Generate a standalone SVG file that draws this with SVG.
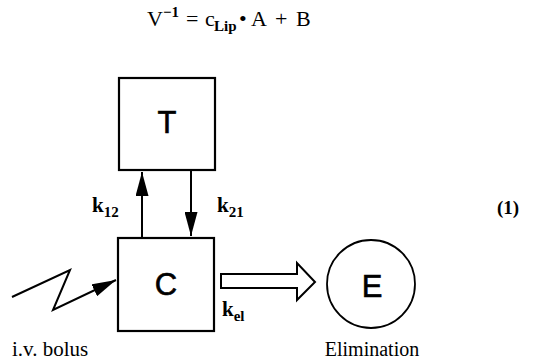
<svg xmlns="http://www.w3.org/2000/svg" width="537" height="364" viewBox="0 0 537 364">
<style>
.serif{font-family:"Liberation Serif","Times New Roman",serif;fill:#000}
.sans{font-family:"Liberation Sans",Arial,sans-serif;fill:#000}
.box{fill:#fff;stroke:#000;stroke-width:2.2}
.line{fill:none;stroke:#000;stroke-width:2}
.b{font-weight:bold}
</style>
<defs>
<marker id="ah" markerWidth="24" markerHeight="13" refX="24" refY="6.5" viewBox="0 0 24 13" markerUnits="userSpaceOnUse" orient="auto">
<path d="M0,0 L24,6.5 L0,13 Z" fill="#000"/>
</marker>
</defs>
<rect width="537" height="364" fill="#fff"/>
<text class="serif" y="26" font-size="22"><tspan x="147">V</tspan><tspan x="163" y="17" font-size="15" class="b">−1</tspan><tspan x="186" y="26">=</tspan><tspan x="205">c</tspan><tspan x="214" y="31" font-size="15" class="b">Lip</tspan><tspan x="239" y="26">•</tspan><tspan x="251">A</tspan><tspan x="275">+</tspan><tspan x="296">B</tspan></text>
<g id="T"><rect class="box" x="119" y="78" width="96" height="92"/><text class="sans" x="167" y="133" font-size="31" stroke="#000" stroke-width="0.6" text-anchor="middle">T</text></g>
<g id="C"><rect class="box" x="118" y="238" width="96" height="93"/><text class="sans" x="166" y="295" font-size="31" stroke="#000" stroke-width="0.6" text-anchor="middle">C</text></g>
<g id="E"><circle cx="371" cy="284" r="44" fill="#fff" stroke="#000" stroke-width="1.8"/><text class="sans" x="372" y="297" font-size="31" stroke="#000" stroke-width="0.6" text-anchor="middle">E</text></g>
<g id="connectors">
<line class="line" x1="142" y1="238" x2="142" y2="172" marker-end="url(#ah)"/>
<line class="line" x1="191" y1="170" x2="191" y2="236" marker-end="url(#ah)"/>
<polyline class="line" points="12,297 70,270 53,310 116,280" marker-end="url(#ah)"/>
<polygon points="221,274 297,274 297,263 315,282 297,300 297,288 221,288" fill="#fff" stroke="#000" stroke-width="2"/>
</g>
<text class="serif b" x="92" y="212" font-size="21">k<tspan dy="5" font-size="15">12</tspan></text>
<text class="serif b" x="217" y="212" font-size="21">k<tspan dy="5" font-size="15">21</tspan></text>
<text class="serif b" x="222" y="316" font-size="21">k<tspan dy="5" font-size="15">el</tspan></text>
<text class="serif b" x="497" y="214" font-size="19">(1)</text>
<text class="serif" x="12" y="356" font-size="21">i.v. bolus</text>
<text class="serif" x="372" y="356" font-size="20" text-anchor="middle">Elimination</text>
</svg>
